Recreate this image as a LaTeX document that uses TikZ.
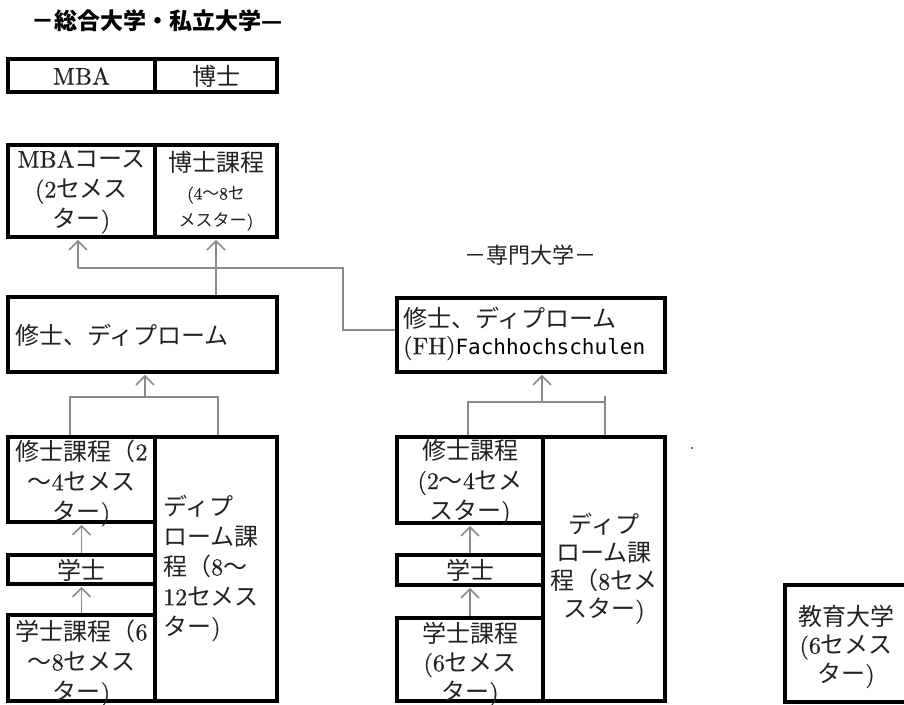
\documentclass[tikz,border=0pt]{standalone}
\usepackage{fontspec}
\setmainfont{lmroman10-regular.otf}[BoldFont=lmroman10-bold.otf, FakeBold=0.6]
\newfontfamily\jp{Noto Sans CJK JP}
\newfontfamily\monofam{DejaVu Sans Mono}
\usetikzlibrary{arrows.meta}
\newcommand\J[1]{{\jp #1}}
\definecolor{ink}{HTML}{222222}
\definecolor{connc}{HTML}{8A8A8A}
\tikzset{
  box/.style={draw=black, line width=3.6pt, inner sep=0pt},
  txt/.style={inner sep=0pt, text=ink, align=center, font=\fontsize{24}{30}\selectfont},
  conline/.style={draw=connc, line width=1.6pt},
  uparrow/.style={conline, -{Straight Barb[length=9pt,width=18pt]}, shorten >=1pt},
}
\begin{document}
\begin{tikzpicture}[x=1pt,y=-1pt]
\useasboundingbox (0,0) rectangle (904,704);
\clip (0,0) rectangle (904,704);
\fill[white] (0,0) rectangle (904,704);

% ---------- titles ----------
\node[font=\jp\bfseries\fontsize{23}{23}\selectfont, text=black, inner sep=0pt] (t1) at (157,21) {－総合大学・私立大学—};
\node[font=\jp\fontsize{22}{22}\selectfont, text=ink, inner sep=0pt] (t2) at (530,255) {－専門大学－};

% ---------- left group boxes ----------
\node[box, minimum width=147pt, minimum height=33pt] (mba) at (81.5,75.5) {};
\node[box, minimum width=122pt, minimum height=33pt] (hakase) at (216,75.5) {};
\node[box, minimum width=147pt, minimum height=92pt] (mbac) at (81.5,191) {};
\node[box, minimum width=122pt, minimum height=92pt] (hkatei) at (216,191) {};
\node[box, minimum width=269pt, minimum height=75pt] (shushi1) at (142.5,334.5) {};
\node[box, minimum width=147pt, minimum height=85pt] (shushiL) at (81.5,479.5) {};
\node[box, minimum width=147pt, minimum height=29pt] (gakushiL) at (81.5,569.5) {};
\node[box, minimum width=147pt, minimum height=86pt] (gkateiL) at (81.5,658) {};
\node[box, minimum width=122pt, minimum height=264pt] (diplomaL) at (216,569) {};

% ---------- right group boxes ----------
\node[box, minimum width=268pt, minimum height=74pt] (fh) at (531,335) {};
\node[box, minimum width=146pt, minimum height=86pt] (shushiR) at (470,480) {};
\node[box, minimum width=146pt, minimum height=30pt] (gakushiR) at (470,570) {};
\node[box, minimum width=146pt, minimum height=83pt] (gkateiR) at (470,659.5) {};
\node[box, minimum width=122pt, minimum height=264pt] (diplomaR) at (604,569) {};
\node[box, minimum width=122pt, minimum height=117pt] (kyoiku) at (846,643.5) {};

% ---------- texts ----------
\node[txt] (mbaT) at (81.5,76) {MBA};
\node[txt] (hakaseT) at (216,76) {\J{博士}};
\node[txt] (mbacT) at (81.5,192) {MBA\J{コース}\\(2\J{セメス}\\\J{ター})};
\node[txt] (hkateiT) at (216,162) {\J{博士課程}};
\node[txt, font=\fontsize{17}{27}\selectfont] (hkateiS) at (216,208.5) {(4\J{～}8\J{セ}\\\J{メスター})};
\node[txt, anchor=west] (shushi1T) at (15,335) {\J{修士、ディプローム}};
\node[txt] (shushiLT) at (81.5,483) {\J{修士課程（}2\\\J{～}4\J{セメス}\\\J{ター})};
\node[txt] (gakushiLT) at (81.5,570) {\J{学士}};
\node[txt] (gkateiLT) at (81.5,663) {\J{学士課程（}6\\\J{～}8\J{セメス}\\\J{ター})};
\node[txt, align=left, anchor=west] (diplomaLT) at (163,568)
  {\J{ディプ}\\\J{ローム課}\\\J{程（}8\J{～}\\12\J{セメス}\\\J{ター})};

\node[txt, align=left, anchor=west, font=\fontsize{24}{27}\selectfont] (fhT) at (403,333.5)
  {\J{修士、ディプローム}\\(FH){\monofam\fontsize{21}{27}\selectfont\color{black}Fachhochschulen}};
\node[txt] (shushiRT) at (470,482) {\J{修士課程}\\(2\J{～}4\J{セメ}\\\J{スター})};
\node[txt] (gakushiRT) at (470,570) {\J{学士}};
\node[txt, font=\fontsize{24}{29}\selectfont] (gkateiRT) at (470,664) {\J{学士課程}\\(6\J{セメス}\\\J{ター})};
\node[txt, font=\fontsize{24}{28}\selectfont] (diplomaRT) at (604,568.5)
  {\J{ディプ}\\\J{ローム課}\\\J{程（}8\J{セメ}\\\J{スター})};
\node[txt, font=\fontsize{24}{28.5}\selectfont] (kyoikuT) at (846,646.5) {\J{教育大学}\\(6\J{セメス}\\\J{ター})};

% ---------- connectors ----------
\coordinate (jL) at (78,268);
\coordinate (jR) at (343,268);
\draw[uparrow] (shushi1.north -| hkatei.south) -- (hkatei.south);
\draw[conline] ([yshift=5pt]fh.west) -| (jR) -- (jL);
\draw[uparrow] (jL) -- (jL |- mbac.south);

\coordinate (bL1) at (70,397);
\coordinate (bL2) at (218,397);
\coordinate (bLm) at (145,397);
\draw[conline] (bL1 |- shushiL.north) -- (bL1) -- (bL2) -- (bL2 |- diplomaL.north);
\draw[uparrow] (bLm) -- (bLm |- shushi1.south);
\draw[uparrow] (gakushiL.north) -- (shushiL.south);
\draw[uparrow] (gkateiL.north) -- (gakushiL.south);

\coordinate (bR1) at (468,402);
\coordinate (bR2) at (605,402);
\coordinate (bRt) at (605,396);
\coordinate (bRm) at (542,402);
\draw[conline] (bR1 |- shushiR.north) -- (bR1) -- (bR2) -- (bR2 |- diplomaR.north);
\draw[conline] (bRt) -- (bR2);
\draw[uparrow] (bRm) -- (bRm |- fh.south);
\draw[uparrow] (gakushiR.north) -- (shushiR.south);
\draw[uparrow] (gkateiR.north) -- (gakushiR.south);

% small red speck
\fill[red!80!black] (692,448) circle (1.2pt);
\end{tikzpicture}
\end{document}
